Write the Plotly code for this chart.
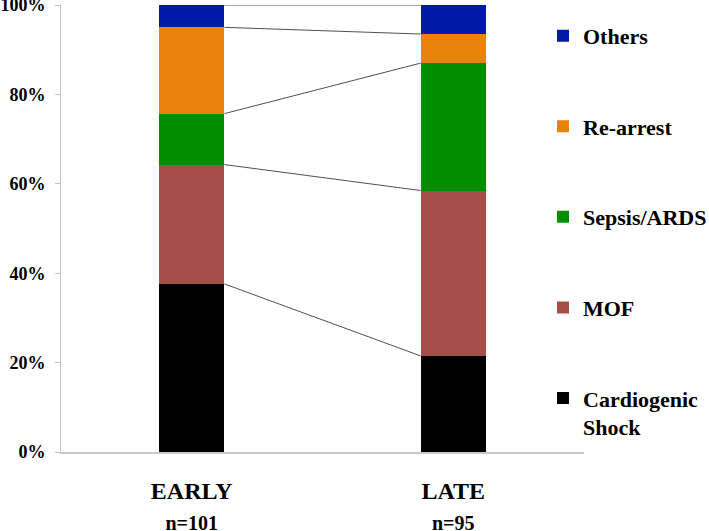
import plotly.graph_objects as go

groups = ["EARLY", "LATE"]
group_n = ["n=101", "n=95"]
causes = ["Cardiogenic<br>Shock", "MOF", "Sepsis/ARDS", "Re-arrest", "Others"]
early_pct = [37.6, 26.7, 11.4, 19.3, 5.0]
late_pct = [21.5, 37.0, 28.5, 6.5, 6.5]
colors = ["#000000", "#A64F48", "#008E00", "#EA830C", "#0019A6"]
y_ticks = [0, 20, 40, 60, 80, 100]

SERIF = "Liberation Serif"
bar_width = 0.25
xpos = [0, 1]

fig = go.Figure()
for i, name in enumerate(causes):
    fig.add_trace(go.Bar(
        x=xpos, y=[early_pct[i], late_pct[i]], name=f"<b>{name}</b>",
        marker=dict(color=colors[i], line=dict(width=0)),
        width=bar_width, legendgroup=f"g{i}", legendrank=len(causes) - i,
    ))

# series connector lines between cumulative tops
cum_e, cum_l = 0, 0
for i in range(len(causes)):
    cum_e += early_pct[i]
    cum_l += late_pct[i]
    fig.add_trace(go.Scatter(
        x=[xpos[0] + bar_width / 2, xpos[1] - bar_width / 2],
        y=[cum_e, cum_l], mode="lines",
        line=dict(color="#505050", width=1), showlegend=False, hoverinfo="skip",
    ))

ticktext = [f"<b>{g}</b><br><b><span style='font-size:20px'>{n}</span></b>" for g, n in zip(groups, group_n)]
ytext = [f"<b>{v}%</b>" for v in y_ticks]

fig.update_layout(
    width=709, height=531,
    margin=dict(l=61, r=125, t=5, b=79, autoexpand=False),
    barmode="stack",
    plot_bgcolor="white", paper_bgcolor="white",
    font=dict(family=SERIF, color="black"),
    legend=dict(
        x=0.9216, xanchor="left", y=0.978, yanchor="top",
        traceorder="grouped", tracegroupgap=59,
        font=dict(size=22, family=SERIF),
        valign="top", bgcolor="rgba(0,0,0,0)",
    ),
    xaxis=dict(
        range=[-0.5, 1.5], tickvals=xpos, ticktext=ticktext,
        showline=True, linecolor="#C8C8C8", linewidth=1.5,
        ticks="", showgrid=False, zeroline=False, automargin=False,
        tickfont=dict(size=24, family=SERIF), ticklabelstandoff=16,
    ),
    yaxis=dict(
        range=[0, 100], tickvals=y_ticks, ticktext=ytext,
        showline=True, linecolor="#BFBFBF", linewidth=1,
        ticks="outside", ticklen=5, tickcolor="#BFBFBF",
        showgrid=False, zeroline=False, automargin=False,
        ticklabeloverflow="allow",
        tickfont=dict(size=18, family=SERIF), ticklabelstandoff=6,
    ),
)

fig.write_html("out.html", config={"displayModeBar": False},
               post_script="document.body.style.margin='0';")
